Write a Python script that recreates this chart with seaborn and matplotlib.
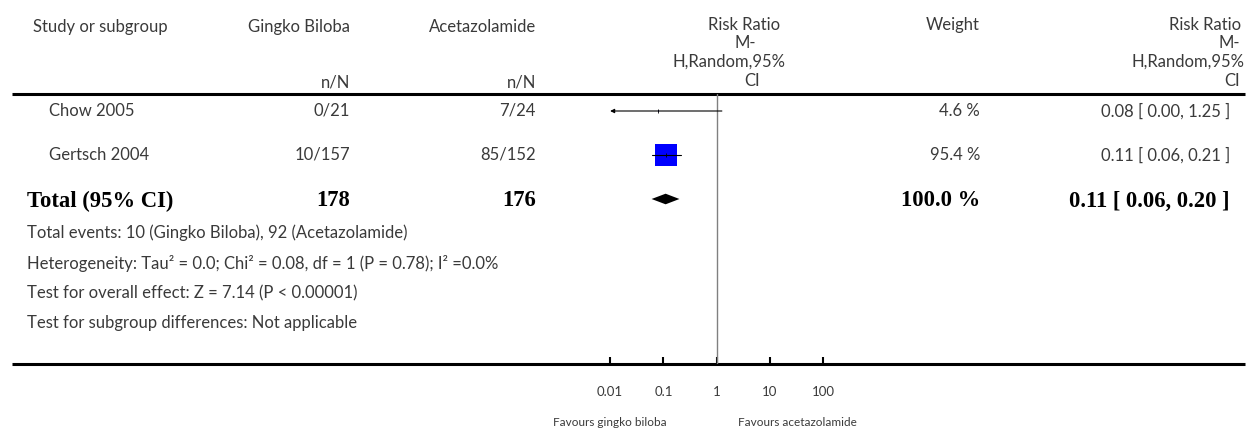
import numpy as np
import matplotlib
matplotlib.use("Agg")
import matplotlib.pyplot as plt
import seaborn as sns
import pandas as pd

# ---------------- data ----------------
studies = ["Chow 2005", "Gertsch 2004"]
gb_events = [0, 10]
gb_totals = [21, 157]
ac_events = [7, 85]
ac_totals = [24, 152]
weights = [4.6, 95.4]
rr = [0.08, 0.11]
rr_lo = [0.00, 0.06]
rr_hi = [1.25, 0.21]

total_gb = 178
total_ac = 176
total_weight = 100.0
total_rr = 0.11
total_lo = 0.06
total_hi = 0.20

tick_values = [0.01, 0.1, 1, 10, 100]
tick_labels = ["0.01", "0.1", "1", "10", "100"]

footer_lines = [
    "Total events: 10 (Gingko Biloba), 92 (Acetazolamide)",
    "Heterogeneity: Tau² = 0.0; Chi² = 0.08, df = 1 (P = 0.78); I² =0.0%",
    "Test for overall effect: Z = 7.14 (P < 0.00001)",
    "Test for subgroup differences: Not applicable",
]

# ---------------- style ----------------
sns.set_theme(style="white")
plt.rcParams["font.family"] = ["Lato", "DejaVu Sans"]
TXT = "#3a3a3a"
FS = 12

W, H = 1259, 429
fig = plt.figure(figsize=(W / 100, H / 100), dpi=100)

# background layout axes in pixel units
bg = fig.add_axes([0, 0, 1, 1])
bg.set_xlim(0, W)
bg.set_ylim(H, 0)
bg.axis("off")

# forest axes (log scale)
x1_px = 716.7
dec = 53.3
ax_left_px = x1_px - 2.5 * dec
ax_w_px = 5 * dec
top_px, bot_px = 94, 364
ax = fig.add_axes([ax_left_px / W, (H - bot_px) / H, ax_w_px / W, (bot_px - top_px) / H])
ax.patch.set_alpha(0)
ax.set_xscale("log")
ax.set_xlim(10 ** -2.5, 10 ** 2.5)
row0_px, row_step = 111, 44
ax.set_ylim((bot_px - row0_px) / row_step, (top_px - row0_px) / row_step)

# reference line at 1
ax.axvline(1, color="#808080", lw=1, zorder=1)

rows = np.arange(len(studies))
xmin_tick = tick_values[0]
for i in rows:
    lo_c = max(rr_lo[i], xmin_tick)
    if rr_lo[i] < xmin_tick:
        ax.annotate("", xy=(lo_c, i), xytext=(rr_hi[i], i),
                    arrowprops=dict(arrowstyle="-|>", color="black", lw=0.8,
                                    mutation_scale=6, shrinkA=0, shrinkB=0))
    else:
        ax.plot([lo_c, rr_hi[i]], [i, i], color="black", lw=0.8, zorder=3)

df = pd.DataFrame({"rr": rr, "row": rows, "w": weights})
side_pt = 22 * 0.72 * np.array(weights) / max(weights)
sns.scatterplot(data=df, x="rr", y="row", marker="s", s=side_pt ** 2, color="blue",
                linewidth=0, ax=ax, zorder=2, legend=False)
ax.scatter(rr, rows, marker="|", s=10, color="black", linewidths=0.6, zorder=4)

# diamond for total
yt = len(studies)
hh = 5.3 / row_step
ax.fill([total_lo, total_rr, total_hi, total_rr], [yt, yt - hh, yt, yt + hh],
        color="black", lw=0, zorder=3)

for s in ax.spines.values():
    s.set_visible(False)
ax.set_xlabel("")
ax.set_ylabel("")
ax.set_yticks([])
ax.set_xticks(tick_values)
ax.set_xticklabels(tick_labels)
ax.minorticks_off()
ax.tick_params(axis="x", which="major", bottom=True, direction="in", length=5, width=1.5,
               color="black", pad=16, labelsize=9.5, labelcolor=TXT)
ax.grid(False)

# ---------------- table lines ----------------
bg.plot([12, 1245], [top_px, top_px], color="black", lw=2.2, solid_capstyle="butt")
bg.plot([12, 1245], [bot_px, bot_px], color="black", lw=2.2, solid_capstyle="butt")

# ---------------- header text ----------------
def t(x, y, s, ha="left", **kw):
    kw.setdefault("fontsize", FS)
    kw.setdefault("color", TXT)
    bg.text(x, y, s, ha=ha, va="center", **kw)

t(33, 27, "Study or subgroup")
t(350, 27, "Gingko Biloba", ha="right")
t(536, 27, "Acetazolamide", ha="right")
t(350, 83, "n/N", ha="right")
t(536, 83, "n/N", ha="right")
t(744, 25, "Risk Ratio", ha="center")
t(745, 43, "M-", ha="center")
t(729, 62, "H,Random,95%", ha="center")
t(752, 81, "CI", ha="center")
t(980, 25, "Weight", ha="right")
t(1241, 25, "Risk Ratio", ha="right")
t(1240, 43, "M-", ha="right")
t(1245, 62, "H,Random,95%", ha="right")
t(1240, 81, "CI", ha="right")

# ---------------- study rows ----------------
for i, name in enumerate(studies):
    y = row0_px + i * row_step
    t(49, y, name)
    t(350, y, f"{gb_events[i]}/{gb_totals[i]}", ha="right")
    t(536, y, f"{ac_events[i]}/{ac_totals[i]}", ha="right")
    t(980, y, f"{weights[i]:.1f} %", ha="right")
    t(1230, y, f"{rr[i]:.2f} [ {rr_lo[i]:.2f}, {rr_hi[i]:.2f} ]", ha="right")

# total row
yT = row0_px + len(studies) * row_step + 2
bold = dict(fontsize=16.3, fontweight="bold", color="black", family="Liberation Serif")
t(27, yT, "Total (95% CI)", **bold)
t(350, yT, f"{total_gb}", ha="right", **bold)
t(536, yT, f"{total_ac}", ha="right", **bold)
t(980, yT, f"{total_weight:.1f} %", ha="right", **bold)
t(1230, yT, f"{total_rr:.2f} [ {total_lo:.2f}, {total_hi:.2f} ]", ha="right", **bold)

# footer
for k, line in enumerate(footer_lines):
    t(27, 233 + 30 * k, line, fontsize=12)

# favours labels
t(610, 423, "Favours gingko biloba", ha="center", fontsize=8.5)
t(797, 423, "Favours acetazolamide", ha="center", fontsize=8.5)

fig.savefig("out.png", dpi=100)
